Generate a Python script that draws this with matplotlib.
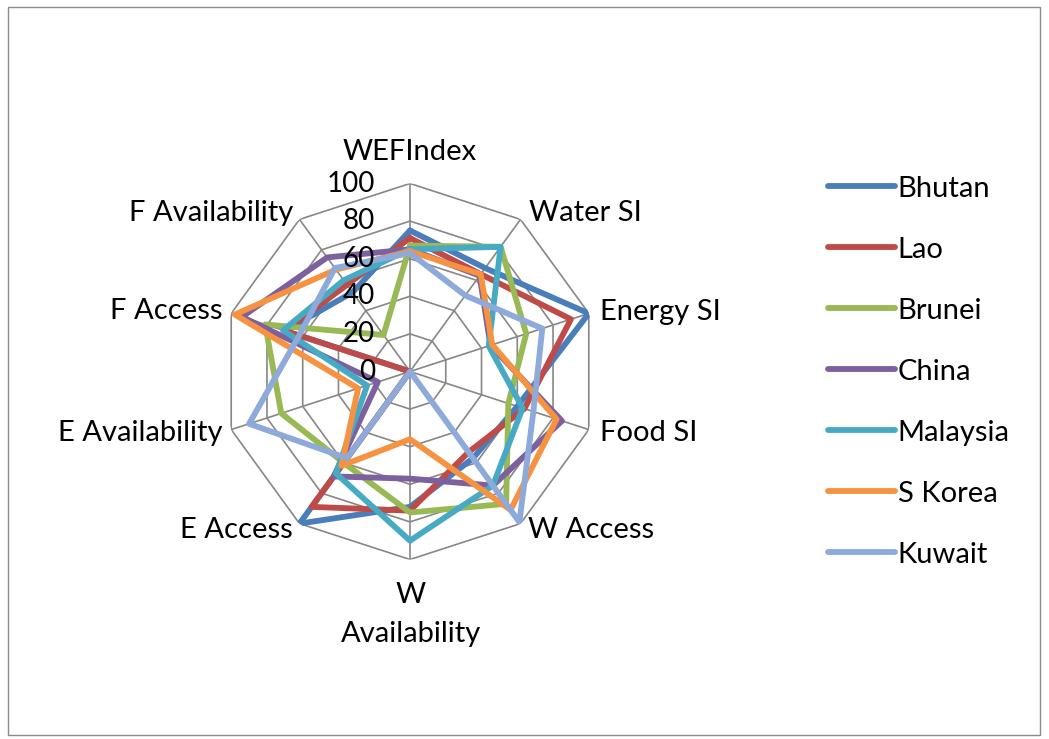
import numpy as np
import matplotlib.pyplot as plt
from matplotlib.patches import Rectangle

plt.rcParams['font.family'] = ['Lato', 'DejaVu Sans']

# Indicators on the radar axes (clockwise from the top)
categories = ['WEFIndex', 'Water SI', 'Energy SI', 'Food SI', 'W Access',
              'W\nAvailability', 'E Access', 'E Availability', 'F Access',
              'F Availability']

# Scores per country, same order as categories
bhutan = [75, 68, 100, 60, 57, 72, 100, 0, 70, 52]
lao = [71, 64, 90, 64, 53, 74, 89, 0, 70, 57]
brunei = [67, 82, 65, 55, 87, 75, 60, 72, 81, 24]
china = [65, 63, 45, 85, 75, 57, 69, 18, 94, 75]
malaysia = [65, 82, 44, 63, 75, 90, 67, 24, 71, 60]
skorea = [64, 64, 46, 82, 91, 36, 62, 29, 98, 67]
kuwait = [63, 50, 74, 69, 99, 0, 57, 90, 62, 68]

countries = ['Bhutan', 'Lao', 'Brunei', 'China', 'Malaysia', 'S Korea', 'Kuwait']
series = [bhutan, lao, brunei, china, malaysia, skorea, kuwait]
colors = ['#4A7EBB', '#BE4B48', '#98B954', '#7D60A0', '#46AAC5', '#F69240', '#8EAADB']

levels = [0, 20, 40, 60, 80, 100]

W, H = 1049, 739
fig = plt.figure(figsize=(W / 100, H / 100), dpi=100)

# chart area border
fig.patches.append(Rectangle((8 / W, 4 / H), 1032 / W, 728 / H, transform=fig.transFigure,
                             fill=False, edgecolor='#8c8c8c', linewidth=1))

cx, cy, R = 410, 739 - 371.5, 188
ax = fig.add_axes([(cx - R) / W, (cy - R) / H, 2 * R / W, 2 * R / H], projection='polar')
ax.set_theta_zero_location('N')
ax.set_theta_direction(-1)
ax.set_ylim(0, 100)
ax.grid(False)
ax.spines['polar'].set_visible(False)
ax.set_xticks([])
ax.set_yticks([])
ax.patch.set_alpha(0)

n = len(categories)
theta = np.arange(n) * 2 * np.pi / n
theta_c = np.append(theta, theta[0])

# polygon gridlines and spokes
grid_kw = dict(color='#878787', linewidth=1.2, zorder=1)
for lv in levels[1:]:
    ax.plot(theta_c, [lv] * (n + 1), **grid_kw)
for t in theta:
    ax.plot([t, t], [0, 100], **grid_kw)

for name, vals, col in zip(countries, series, colors):
    ax.plot(theta_c, vals + vals[:1], color=col, linewidth=4.2, label=name,
            solid_joinstyle='round', solid_capstyle='round', zorder=3)

# value labels along the top spoke
for lv in levels:
    ax.annotate(str(lv), xy=(0, lv), xytext=(-35, 0), textcoords='offset pixels',
                ha='right', va='center', fontsize=20, zorder=4)

# category labels around the outside
offsets = [(0, 31, 'center'), (8, 6, 'left'), (11, 1, 'left'), (11, -3, 'left'),
           (7, -6, 'left'), (1, -55, 'center'), (-7, -6, 'right'), (-9, -3, 'right'),
           (-9, 2, 'right'), (-6, 6, 'right')]
for t, lab, (dx, dy, ha) in zip(theta, categories, offsets):
    ax.annotate(lab, xy=(t, 100), xytext=(dx, dy), textcoords='offset pixels',
                ha=ha, va='center', fontsize=21, linespacing=1.6,
                annotation_clip=False)

fig.legend(loc='upper left', bbox_to_anchor=(816 / W, 1 - 164 / H), frameon=False,
           fontsize=21, handlelength=2.3, handletextpad=0.1, labelspacing=1.2,
           borderaxespad=0)

fig.savefig('out.png', dpi=100)
